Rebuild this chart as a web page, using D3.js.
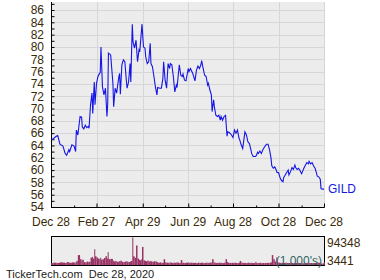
<!DOCTYPE html>
<html>
<head>
<meta charset="utf-8">
<script src="https://cdn.jsdelivr.net/npm/d3@7"></script>
<style>
  body { margin: 0; background: #fff; }
  svg text { font-family: "Liberation Sans", Arial, sans-serif; font-size: 12px; }
</style>
</head>
<body>
<svg id="chart" width="380" height="280"></svg>
<script>
var ticker = "GILD";
var footer = "TickerTech.com  Dec 28, 2020";

var dates = [
  "2019-12-28","2019-12-31","2020-01-04","2020-01-06","2020-01-09","2020-01-13","2020-01-16","2020-01-18","2020-01-21","2020-01-22",
  "2020-01-25","2020-01-28","2020-01-30","2020-01-31","2020-02-02","2020-02-05","2020-02-07","2020-02-08","2020-02-10","2020-02-12",
  "2020-02-14","2020-02-16","2020-02-17","2020-02-19","2020-02-21","2020-02-22","2020-02-24","2020-02-25","2020-02-27","2020-02-29",
  "2020-03-02","2020-03-03","2020-03-04","2020-03-06","2020-03-08","2020-03-10","2020-03-12","2020-03-13","2020-03-14","2020-03-17",
  "2020-03-20","2020-03-21","2020-03-23","2020-03-25","2020-03-28","2020-03-29","2020-03-30","2020-04-01","2020-04-03","2020-04-05",
  "2020-04-07","2020-04-08","2020-04-10","2020-04-12","2020-04-13","2020-04-15","2020-04-16","2020-04-18","2020-04-20","2020-04-22",
  "2020-04-24","2020-04-25","2020-04-27","2020-04-28","2020-04-30","2020-05-02","2020-05-03","2020-05-05","2020-05-07","2020-05-09",
  "2020-05-10","2020-05-12","2020-05-14","2020-05-16","2020-05-18","2020-05-19","2020-05-22","2020-05-24","2020-05-26","2020-05-27",
  "2020-05-29","2020-05-31","2020-06-02","2020-06-04","2020-06-05","2020-06-07","2020-06-09","2020-06-11","2020-06-13","2020-06-14",
  "2020-06-17","2020-06-19","2020-06-21","2020-06-22","2020-06-24","2020-06-26","2020-06-29","2020-06-30","2020-07-02","2020-07-05",
  "2020-07-08","2020-07-10","2020-07-12","2020-07-14","2020-07-16","2020-07-17","2020-07-19","2020-07-21","2020-07-23","2020-07-25",
  "2020-07-26","2020-07-28","2020-07-30","2020-07-31","2020-08-02","2020-08-03","2020-08-05","2020-08-07","2020-08-09","2020-08-11",
  "2020-08-12","2020-08-14","2020-08-16","2020-08-18","2020-08-20","2020-08-21","2020-08-23","2020-08-26","2020-08-28","2020-08-30",
  "2020-09-01","2020-09-03","2020-09-05","2020-09-06","2020-09-08","2020-09-10","2020-09-12","2020-09-13","2020-09-15","2020-09-17",
  "2020-09-19","2020-09-21","2020-09-22","2020-09-24","2020-09-27","2020-09-28","2020-09-30","2020-10-01","2020-10-03","2020-10-05",
  "2020-10-07","2020-10-09","2020-10-10","2020-10-12","2020-10-14","2020-10-16","2020-10-18","2020-10-19","2020-10-21","2020-10-23",
  "2020-10-25","2020-10-26","2020-10-28","2020-10-30","2020-11-01","2020-11-03","2020-11-04","2020-11-06","2020-11-08","2020-11-10",
  "2020-11-11","2020-11-13","2020-11-15","2020-11-17","2020-11-19","2020-11-20","2020-11-22","2020-11-24","2020-11-26","2020-11-28",
  "2020-11-29","2020-12-01","2020-12-03","2020-12-05","2020-12-07","2020-12-08","2020-12-10","2020-12-12","2020-12-14","2020-12-16",
  "2020-12-17","2020-12-19","2020-12-21","2020-12-23","2020-12-24","2020-12-26","2020-12-28"
];

var prices = [
  65.0, 65.1, 65.5, 65.6, 64.2, 63.9, 62.7, 62.4, 63.3, 63.0,
  64.1, 63.9, 63.0, 66.5, 65.7, 68.7, 68.6, 67.0, 66.7, 67.3,
  66.9, 67.1, 66.8, 70.6, 72.5, 69.2, 74.3, 70.6, 74.1, 75.2,
  75.7, 75.8, 80.0, 73.5, 72.2, 73.3, 68.7, 70.6, 79.0, 78.7,
  74.1, 70.3, 73.3, 72.5, 75.2, 75.7, 72.3, 77.1, 77.9, 77.6,
  74.6, 73.3, 74.3, 77.3, 74.3, 83.7, 80.8, 79.8, 81.1, 77.6,
  79.5, 79.2, 82.2, 83.7, 80.0, 79.8, 78.4, 77.3, 77.6, 80.6,
  77.3, 76.8, 75.2, 73.5, 72.2, 73.4, 73.3, 73.3, 74.9, 77.6,
  74.6, 73.3, 77.3, 76.5, 77.3, 77.1, 75.2, 72.7, 73.8, 73.4,
  77.1, 75.4, 75.2, 75.6, 74.6, 74.5, 76.5, 76.0, 76.5, 75.7,
  74.5, 76.2, 76.9, 76.5, 77.1, 77.8, 76.5, 75.4, 75.2, 73.8,
  74.1, 73.0, 72.2, 69.5, 71.4, 70.3, 68.9, 68.7, 68.9, 68.1,
  68.7, 68.1, 68.7, 68.9, 65.5, 66.2, 66.1, 65.7, 65.3, 66.5,
  66.0, 66.5, 65.2, 64.9, 64.1, 63.5, 65.3, 66.2, 65.7, 64.6,
  64.3, 63.3, 62.7, 62.2, 62.2, 62.3, 62.9, 62.7, 63.1, 62.7,
  63.3, 63.7, 63.9, 64.2, 64.2, 63.3, 61.9, 60.7, 60.3, 60.5,
  60.0, 59.6, 59.6, 58.8, 58.3, 58.1, 58.8, 59.2, 59.6, 60.0,
  59.2, 59.7, 60.4, 60.1, 60.8, 60.4, 60.1, 60.3, 59.9, 59.4,
  59.7, 60.3, 60.8, 61.2, 61.0, 61.4, 61.0, 61.2, 60.7, 60.3,
  59.9, 59.0, 58.9, 58.5, 57.0, 56.9, 56.9
];

// volume in thousands
var volumes = [
  6500, 8000, 7000, 7500, 9000, 8000, 7000, 10000, 8000, 7500,
  9000, 8000, 9500, 14000, 34000, 20000, 15000, 18000, 10000, 9000,
  12000, 10000, 11000, 25000, 28000, 22000, 54000, 30000, 26000, 22000,
  20000, 25000, 18000, 20000, 24000, 30000, 22000, 44000, 20000, 21000,
  15000, 12000, 14000, 11000, 13000, 12000, 15000, 11000, 10000, 12000,
  13000, 11000, 10000, 12000, 14000, 94348, 30000, 25000, 67000, 22000,
  18000, 16000, 20000, 62000, 16000, 14000, 13000, 15000, 12000, 14000,
  12000, 11000, 13000, 12000, 10000, 8000, 9000, 7000, 8000, 20000,
  9000, 8000, 7500, 8000, 9000, 7000, 8000, 7500, 9000, 8000,
  7000, 17000, 8000, 7500, 7000, 8000, 9000, 7000, 8000, 7000,
  7500, 6500, 8000, 7000, 7500, 8000, 6500, 7000, 8000, 7000,
  7500, 8000, 9000, 20000, 9000, 8000, 7000, 7500, 8000, 7000,
  7500, 6500, 8000, 20000, 10000, 8000, 7000, 7500, 7000, 8000,
  7000, 6500, 8000, 14000, 8000, 7000, 7500, 6500, 7000, 8000,
  7000, 7500, 6500, 7000, 11000, 7000, 6500, 7000, 7500, 6500,
  7000, 6500, 7000, 7500, 7000, 8000, 9000, 34000, 20000, 12000,
  26000, 9000, 8000, 7000, 7500, 6500, 7000, 8000, 7000, 6500,
  7000, 7500, 6500, 7000, 6500, 7000, 6000, 7000, 6500, 5000,
  6000, 7000, 7500, 6500, 7000, 6500, 7000, 6000, 6500, 7000,
  7000, 8000, 7500, 8000, 3441, 6000, 9000
];

var xTickDates = ["2019-12-28","2020-02-27","2020-04-29","2020-06-29","2020-08-28","2020-10-28","2020-12-28"];
var xTickLabels = ["Dec 28","Feb 27","Apr 29","Jun 29","Aug 28","Oct 28","Dec 28"];
var xMinorDates = ["2020-01-28","2020-03-28","2020-05-29","2020-07-29","2020-09-28","2020-11-28"];
var yTickValues = [54,56,58,60,62,64,66,68,70,72,74,76,78,80,82,84,86];
var volLabels = ["94348", "3441"];

var parse = d3.timeParse("%Y-%m-%d");
var data = dates.map(function(d, i) {
    return { date: parse(d), price: prices[i], vol: volumes[i] };
});

var plotLeft = 51, plotRight = 324, plotTop = 2, plotBottom = 207;
var volTop = 237, volBottom = 265;

var svg = d3.select("#chart");

var x = d3.scaleTime()
    .domain([parse("2019-12-28"), parse("2020-12-28")])
    .range([plotLeft, plotRight]);
var y = d3.scaleLinear()
    .domain([54, 87.3])
    .range([plotBottom, plotTop]);
var yv = d3.scaleLinear()
    .domain([0, d3.max(volumes)])
    .range([volBottom, volTop + 0.5]);

// plot background
svg.append("rect")
    .attr("x", plotLeft).attr("y", plotTop)
    .attr("width", plotRight - plotLeft).attr("height", plotBottom - plotTop)
    .attr("fill", "#ececec");

// grid
svg.append("g")
    .selectAll("line")
    .data(yTickValues.slice(1))
    .enter().append("line")
    .attr("x1", plotLeft).attr("x2", plotRight)
    .attr("y1", function(d) { return Math.round(y(d)) + 0.5; })
    .attr("y2", function(d) { return Math.round(y(d)) + 0.5; })
    .attr("stroke", "#d6d6d6");

svg.append("g")
    .selectAll("line")
    .data(xTickDates.slice(1))
    .enter().append("line")
    .attr("x1", function(d) { return Math.round(x(parse(d))) + 0.5; })
    .attr("x2", function(d) { return Math.round(x(parse(d))) + 0.5; })
    .attr("y1", plotTop).attr("y2", plotBottom)
    .attr("stroke", "#d6d6d6");

// y axis
var yAxis = d3.axisRight(y)
    .tickValues(d3.range(54, 88))
    .tickSize(3)
    .tickFormat("");
svg.append("g")
    .attr("transform", "translate(" + (plotLeft + 0.5) + ",0)")
    .call(yAxis)
    .call(function(g) {
        g.select(".domain").attr("stroke", "#000").attr("d", "M0," + plotTop + "V" + (plotBottom + 0.5));
        g.selectAll(".tick line").attr("stroke", "#000");
    });

svg.append("g")
    .selectAll("text")
    .data(yTickValues)
    .enter().append("text")
    .attr("x", 44)
    .attr("y", function(d) { return y(d); })
    .attr("dy", "0.36em")
    .attr("text-anchor", "end")
    .attr("fill", "#3a2a08")
    .text(function(d) { return d; });

// x axis
var xAxis = d3.axisTop(x)
    .tickValues(xTickDates.map(parse))
    .tickSize(4)
    .tickFormat("");
svg.append("g")
    .attr("transform", "translate(0," + (plotBottom + 0.5) + ")")
    .call(xAxis)
    .call(function(g) {
        g.select(".domain").attr("stroke", "#000").attr("d", "M" + plotLeft + ",0H" + (plotRight + 0.5));
        g.selectAll(".tick line").attr("stroke", "#000");
    });

svg.append("g")
    .attr("transform", "translate(0," + (plotBottom + 0.5) + ")")
    .call(d3.axisTop(x).tickValues(xMinorDates.map(parse)).tickSize(2).tickFormat(""))
    .call(function(g) {
        g.select(".domain").remove();
        g.selectAll(".tick line").attr("stroke", "#000");
    });

svg.append("g")
    .selectAll("text")
    .data(xTickDates)
    .enter().append("text")
    .attr("x", function(d) { return x(parse(d)); })
    .attr("y", 226)
    .attr("text-anchor", "middle")
    .attr("fill", "#3a2a08")
    .text(function(d, i) { return xTickLabels[i]; });

// price line
var line = d3.line()
    .x(function(d) { return x(d.date); })
    .y(function(d) { return y(d.price); });

svg.append("path")
    .datum(data)
    .attr("fill", "none")
    .attr("stroke", "#1515e6")
    .attr("stroke-width", 1.1)
    .attr("d", line);

svg.append("text")
    .attr("x", 328)
    .attr("y", y(prices[prices.length - 1]))
    .attr("dy", "0.36em")
    .attr("fill", "#1515e6")
    .text(ticker);

// volume panel
svg.append("rect")
    .attr("x", plotLeft + 0.5).attr("y", volTop - 0.5)
    .attr("width", plotRight - plotLeft).attr("height", volBottom - volTop + 1)
    .attr("fill", "#ececec")
    .attr("stroke", "#000");

svg.append("g")
    .selectAll("rect")
    .data(data)
    .enter().append("rect")
    .attr("x", function(d) { return x(d.date); })
    .attr("width", function(d, i) {
        var next = i < data.length - 1 ? x(data[i + 1].date) : plotRight;
        return Math.max(1, next - x(d.date));
    })
    .attr("y", function(d) { return yv(d.vol); })
    .attr("height", function(d) { return volBottom - yv(d.vol); })
    .attr("fill", "#993366");

svg.append("text")
    .attr("x", 322)
    .attr("y", 261)
    .attr("dy", "0.36em")
    .attr("text-anchor", "end")
    .attr("fill", "#336666")
    .text("(1,000's)");

svg.append("text")
    .attr("x", 327).attr("y", 243).attr("dy", "0.36em")
    .attr("fill", "#3a2a08")
    .text(volLabels[0]);
svg.append("text")
    .attr("x", 327).attr("y", 261).attr("dy", "0.36em")
    .attr("fill", "#3a2a08")
    .text(volLabels[1]);

svg.append("text")
    .attr("x", 6).attr("y", 274).attr("dy", "0.36em")
    .attr("fill", "#1a1a1a")
    .style("font-size", "11px")
    .style("white-space", "pre")
    .text(footer);
</script>
</body>
</html>
